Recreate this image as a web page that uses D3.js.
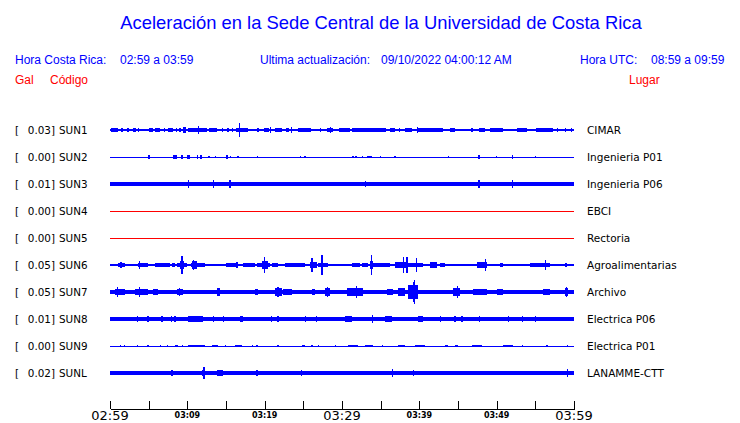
<!DOCTYPE html>
<html><head><meta charset="utf-8">
<script src="https://cdn.jsdelivr.net/npm/d3@7/dist/d3.min.js"></script>
<style>body{margin:0;background:#fff}svg{display:block}</style>
</head><body><svg id="c" width="740" height="423"></svg>
<script>
// ---------- data ----------
const title = "Aceleración en la Sede Central de la Universidad de Costa Rica";
const startTime = "02:59", endTime = "03:59";
const utcStart = "08:59", utcEnd = "09:59";
const updated = "09/10/2022 04:00:12 AM";
const codes  = ["SUN1","SUN2","SUN3","SUN4","SUN5","SUN6","SUN7","SUN8","SUN9","SUNL"];
const peaks  = [0.03,0.00,0.01,0.00,0.00,0.05,0.05,0.01,0.00,0.02];   // Gal
const places = ["CIMAR","Ingenieria P01","Ingenieria P06","EBCI","Rectoria","Agroalimentarias","Archivo","Electrica P06","Electrica P01","LANAMME-CTT"];
const active = [true,true,true,false,false,true,true,true,true,true];
// background noise half-amplitude (Gal)
const noise  = [0.003,0,0.011,0,0,0.004,0.008,0.011,0,0.010];
const tickMinutes = [0,5,10,15,20,25,30,35,40,45,50,55,60];
const bigLabels   = ["02:59","03:29","03:59"];
const smallLabels = ["03:09","03:19","03:39","03:49"];
// bursts: [start minute, end minute, half-amplitude Gal] (minutes after 02:59)
const sun1 = [[0.1,1.0,0.01],[1.5,1.6,0.008],[2.2,2.5,0.008],[3.0,3.4,0.01],[3.6,3.8,0.008],[5.0,5.6,0.01],[5.8,6.5,0.01],[7.0,7.1,0.008],[7.5,8.1,0.01],[8.5,8.6,0.008],[9.0,9.1,0.008],[9.4,9.8,0.015],[10.1,12.5,0.01],[11.4,11.4,0.02],[12.8,13.8,0.01],[14.5,14.6,0.008],[15.2,15.3,0.008],[15.8,15.8,0.012],[16.3,17.8,0.01],[16.7,16.7,0.033],[19.0,19.3,0.008],[19.9,20.5,0.01],[20.7,20.7,0.015],[21.3,22.2,0.01],[22.8,23.1,0.01],[23.5,23.5,0.015],[24.3,26.0,0.01],[27.2,27.3,0.008],[28.1,28.8,0.012],[28.5,28.5,0.015],[29.6,31.0,0.01],[31.3,35.6,0.01],[35.6,35.6,0.012],[36.2,36.8,0.008],[37.4,37.4,0.008],[38.1,39.1,0.008],[39.7,39.7,0.015],[39.7,43.1,0.01],[44.0,44.6,0.008],[46.8,46.8,0.008],[47.7,48.5,0.01],[49.1,50.8,0.008],[52.6,53.9,0.008],[55.1,57.3,0.01],[57.8,57.9,0.008],[58.8,58.9,0.008],[59.6,59.7,0.008]];
const sun2 = [[5.0,5.05,0.008],[8.1,8.7,0.01],[9.3,9.3,0.008],[9.9,10.4,0.012],[11.25,11.25,0.008],[11.6,11.9,0.008],[12.8,12.8,0.006],[13.6,13.6,0.006],[15.0,15.2,0.008],[15.5,15.6,0.006],[16.55,16.55,0.006],[19.0,19.1,0.006],[24.6,24.6,0.006],[25.2,25.2,0.006],[31.4,31.4,0.006],[31.8,31.8,0.006],[32.6,32.6,0.006],[33.2,33.9,0.006],[35.0,35.0,0.006],[36.85,36.85,0.006],[43.8,43.8,0.006],[47.7,47.7,0.008],[50.0,50.0,0.006],[52.0,52.0,0.008],[55.0,55.0,0.006]];
const sun3 = [[10.1,10.1,0.018],[13.4,13.4,0.018],[15.5,15.5,0.018],[33.0,33.0,0.015],[47.7,47.7,0.018],[52.0,52.0,0.018]];
const sun4 = [];
const sun5 = [];
const sun6 = [[1.0,1.9,0.01],[1.4,1.4,0.015],[2.8,2.9,0.006],[3.6,4.9,0.012],[3.75,3.75,0.02],[5.8,7.8,0.008],[8.0,8.4,0.01],[8.7,10.0,0.012],[9.1,9.6,0.02],[9.3,9.3,0.047],[10.5,12.3,0.01],[10.6,11.2,0.018],[10.75,10.75,0.025],[12.5,14.9,0.007],[15.0,16.4,0.01],[16.4,16.4,0.015],[17.2,18.75,0.01],[19.0,20.7,0.012],[19.6,20.4,0.02],[20.0,20.0,0.04],[20.95,21.7,0.01],[22.6,25.2,0.01],[25.9,26.8,0.015],[26.1,26.1,0.035],[26.9,28.2,0.01],[27.4,27.4,0.05],[28.7,30.4,0.007],[31.3,32.3,0.01],[32.6,33.4,0.01],[33.6,34.0,0.02],[33.75,33.75,0.05],[34.0,36.2,0.01],[36.85,38.5,0.016],[37.9,37.9,0.04],[38.4,38.4,0.04],[38.5,40.5,0.01],[39.6,39.6,0.035],[41.4,42.3,0.015],[42.7,43.3,0.01],[45.2,45.3,0.006],[46.5,46.6,0.006],[47.5,48.7,0.014],[48.5,48.5,0.03],[50.4,50.8,0.008],[54.3,56.9,0.01],[56.25,56.25,0.025],[57.8,57.9,0.006],[58.8,59.1,0.01]];
const sun7 = [[0.6,1.9,0.015],[1.0,1.0,0.025],[3.2,4.9,0.015],[3.75,3.75,0.025],[5.5,6.2,0.015],[7.4,8.1,0.012],[8.7,9.4,0.015],[9.0,9.0,0.02],[9.4,13.6,0.01],[13.8,14.2,0.02],[14.2,18.4,0.009],[18.75,19.1,0.013],[20.0,21.0,0.009],[21.3,22.2,0.02],[21.7,21.7,0.025],[22.4,23.5,0.013],[26.1,26.5,0.013],[27.8,28.4,0.02],[28.1,28.1,0.025],[29.1,30.6,0.01],[30.6,32.7,0.02],[31.9,31.9,0.03],[32.7,34.0,0.008],[35.8,36.6,0.013],[37.2,38.1,0.018],[38.5,39.8,0.035],[39.2,39.2,0.05],[39.4,39.4,0.06],[39.8,41.0,0.01],[44.4,45.3,0.02],[44.9,44.9,0.03],[46.9,48.75,0.015],[50.0,50.8,0.015],[51.3,54.3,0.008],[56.0,56.9,0.015],[58.8,59.2,0.02],[59.0,59.0,0.025]];
const sun8 = [[3.5,3.5,0.014],[4.9,4.9,0.014],[6.7,6.7,0.014],[7.9,7.9,0.014],[8.4,8.4,0.016],[10.1,12.0,0.014],[13.4,13.4,0.014],[14.7,14.7,0.014],[16.8,17.2,0.015],[20.9,20.9,0.014],[21.7,21.7,0.015],[25.3,25.3,0.014],[26.7,26.7,0.014],[30.4,31.3,0.014],[33.9,33.9,0.018],[35.6,36.5,0.014],[39.8,40.5,0.015],[42.7,42.7,0.014],[44.6,44.6,0.015],[45.5,45.5,0.014],[47.8,47.8,0.014],[51.5,51.5,0.014],[53.3,53.3,0.014],[55.0,55.0,0.014]];
const sun9 = [[1.3,1.3,0.007],[1.9,1.9,0.007],[3.5,3.5,0.007],[4.9,4.9,0.007],[6.5,6.5,0.007],[7.4,7.4,0.007],[8.4,8.8,0.007],[9.4,9.4,0.007],[10.1,12.3,0.006],[13.2,14.0,0.006],[14.9,14.9,0.007],[16.2,17.1,0.006],[18.4,18.4,0.007],[19.0,19.0,0.007],[21.7,21.7,0.007],[24.8,25.2,0.006],[26.1,26.1,0.007],[26.9,26.9,0.007],[29.1,29.1,0.007],[30.8,32.1,0.006],[33.0,34.0,0.006],[35.2,35.2,0.007],[37.2,38.1,0.006],[39.4,40.7,0.006],[43.3,43.7,0.006],[44.6,45.0,0.006],[46.8,48.1,0.006],[50.8,52.1,0.006],[53.3,53.3,0.007],[56.5,56.5,0.007],[59.1,59.1,0.007]];
const sunL = [[8.0,8.0,0.016],[11.9,12.3,0.015],[12.15,12.15,0.032],[13.8,14.6,0.015],[19.0,19.0,0.016],[24.7,24.7,0.016],[36.5,36.5,0.018],[39.2,39.2,0.015],[59.1,59.1,0.018]];
const bursts = [sun1,sun2,sun3,sun4,sun5,sun6,sun7,sun8,sun9,sunL];

// ---------- drawing ----------
const svg = d3.select("#c");
const BLUE = "#0000ff", RED = "#ff0000";
const sans = "'Liberation Sans', Arial, sans-serif";
const dv = "'DejaVu Sans', sans-serif";

const t0 = new Date(2022,8,10,2,59), t1 = new Date(2022,8,10,3,59);
const tm = m => new Date(+t0 + m*60000);
const x = d3.scaleTime().domain([t0,t1]).range([110,574]);
const y = d3.scalePoint().domain(codes).range([130,373]);
const a = d3.scaleLinear().domain([-0.06,0.06]).range([12,-12]);

svg.append("text").attr("x",381).attr("y",29).attr("text-anchor","middle")
  .attr("font-family",sans).attr("font-size",18.4).attr("fill",BLUE).text(title);

const hdr = [
  [15,64,"Hora Costa Rica:",BLUE],[120,64,`${startTime} a ${endTime}`,BLUE],
  [260,64,"Ultima actualización:",BLUE],[381,64,updated,BLUE],
  [580,64,"Hora UTC:",BLUE],[651,64,`${utcStart} a ${utcEnd}`,BLUE],
  [15,84,"Gal",RED],[50,84,"Código",RED],[629,84,"Lugar",RED]];
svg.append("g").selectAll("text").data(hdr).join("text")
  .attr("x",d=>d[0]).attr("y",d=>d[1]).attr("fill",d=>d[3])
  .attr("font-family",sans).attr("font-size",12).text(d=>d[2]);

const rows = svg.append("g").selectAll("g").data(codes).join("g")
  .attr("transform",d=>`translate(0,${y(d)})`);

rows.append("text").attr("x",15).attr("y",4).attr("font-family",dv).attr("font-size",10.4)
  .attr("fill","#000").text("[");
rows.append("text").attr("x",55).attr("y",4).attr("text-anchor","end").attr("font-family",dv).attr("font-size",10.4)
  .attr("fill","#000").text((d,i)=>peaks[i].toFixed(2)+"]");
rows.append("text").attr("x",59).attr("y",4).attr("font-family",dv).attr("font-size",10.4)
  .attr("fill","#000").text(d=>d);
rows.append("text").attr("x",587).attr("y",4).attr("font-family",dv).attr("font-size",10.5)
  .attr("fill","#000").text((d,i)=>places[i]);

rows.each(function(code,i){
  const g = d3.select(this).append("g").attr("shape-rendering","crispEdges");
  const col = active[i] ? BLUE : RED;
  if (noise[i] > 0) {
    g.append("rect").attr("x",x(t0)).attr("width",x(t1)-x(t0))
      .attr("y",a(noise[i])).attr("height",Math.max(1,a(-noise[i])-a(noise[i]))).attr("fill",col);
  } else {
    g.append("line").attr("x1",x(t0)).attr("x2",x(t1)).attr("y1",0.5).attr("y2",0.5)
      .attr("stroke",col).attr("stroke-width",1);
  }
  const wide = bursts[i].filter(d=>d[1]-d[0] >= 0.15);
  const thin = bursts[i].filter(d=>d[1]-d[0] < 0.15);
  g.selectAll("rect.b").data(wide).join("rect").attr("class","b")
    .attr("x",d=>x(tm(d[0]))).attr("width",d=>x(tm(d[1]))-x(tm(d[0])))
    .attr("y",d=>a(d[2])).attr("height",d=>a(-d[2])-a(d[2])).attr("fill",col);
  g.selectAll("rect.s").data(thin).join("rect").attr("class","s")
    .attr("x",d=>x(tm((d[0]+d[1])/2))-0.5).attr("width",1.2)
    .attr("y",d=>a(d[2])).attr("height",d=>a(-d[2])-a(d[2])).attr("fill",col);
});

// time axis
const axis = d3.axisBottom(x).tickValues(tickMinutes.map(tm)).tickSizeInner(-8).tickSizeOuter(0).tickFormat("");
const ag = svg.append("g").attr("transform","translate(0,409)").call(axis).attr("shape-rendering","crispEdges");
ag.select(".domain").attr("stroke","#000");
ag.selectAll(".tick line").attr("stroke","#000");
const fmt = d3.timeFormat("%H:%M");
svg.append("g").selectAll("text").data(tickMinutes.map(tm).filter(d=>bigLabels.includes(fmt(d)))).join("text")
  .attr("x",d=>x(d)).attr("y",420).attr("text-anchor","middle")
  .attr("font-family",dv).attr("font-size",13).attr("fill","#000").text(fmt);
svg.append("g").selectAll("text").data(tickMinutes.map(tm).filter(d=>smallLabels.includes(fmt(d)))).join("text")
  .attr("x",d=>x(d)).attr("y",417.5).attr("text-anchor","middle")
  .attr("font-family",dv).attr("font-weight","bold").attr("font-size",8).attr("fill","#000").text(fmt);
</script></body></html>
